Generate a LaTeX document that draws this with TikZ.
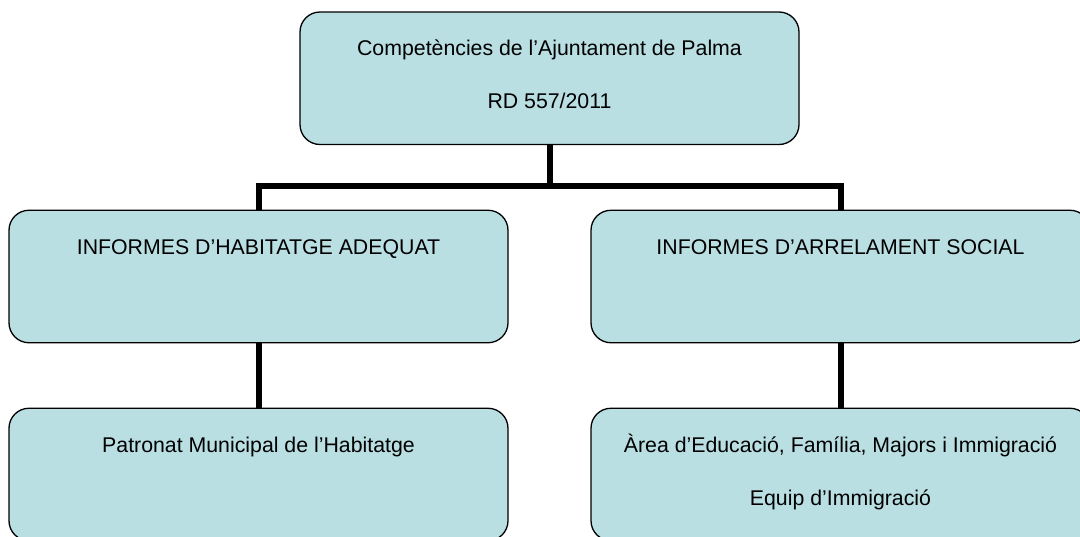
\documentclass[tikz,border=0pt]{standalone}
\usepackage{fontspec}
\setmainfont{Liberation Sans}
\usetikzlibrary{calc,backgrounds}
\definecolor{boxfill}{RGB}{185,223,227}
\begin{document}
\begin{tikzpicture}[x=1pt,y=-1pt,
  box/.style={draw=black,line width=1.3pt,fill=boxfill,rounded corners=20pt,minimum width=499pt,minimum height=132.5pt,inner sep=0pt,outer sep=0pt},
  lbl/.style={anchor=base,inner sep=0pt,font=\fontsize{21.3pt}{25pt}\selectfont},
  conn/.style={line width=6pt,draw=black}]
\clip (0,0) rectangle (1080,536);
\node[box] (top) at (549.5,78.25) {};
\node[box] (hab) at (258.5,276.5) {};
\node[box] (arr) at (840.5,276.5) {};
\node[box] (pat) at (258.5,474.5) {};
\node[box] (imm) at (840.5,474.5) {};
\node[lbl] (t1) at ($(top.north)+(0,43.5)$) {Competències de l’Ajuntament de Palma};
\node[lbl] (t2) at ($(top.north)+(0,96.5)$) {RD 557/2011};
\node[lbl] (h1) at ($(hab.north)+(0,44)$) {INFORMES D’HABITATGE ADEQUAT};
\node[lbl] (a1) at ($(arr.north)+(0,44)$) {INFORMES D’ARRELAMENT SOCIAL};
\node[lbl] (p1) at ($(pat.north)+(0,44)$) {Patronat Municipal de l’Habitatge};
\node[lbl] (i1) at ($(imm.north)+(0,44)$) {Àrea d’Educació, Família, Majors i Immigració};
\node[lbl] (i2) at ($(imm.north)+(0,97)$) {Equip d’Immigració};
\coordinate (bus) at (0,186);
\begin{scope}[on background layer]
\fill[white] (0,0) rectangle (1080,536);
\draw[conn] (top.south) -- (top.south |- bus);
\draw[conn] (hab.north) -- (hab.north |- bus) -- (arr.north |- bus) -- (arr.north);
\draw[conn] (hab.south) -- (pat.north);
\draw[conn] (arr.south) -- (imm.north);
\end{scope}
\end{tikzpicture}
\end{document}
